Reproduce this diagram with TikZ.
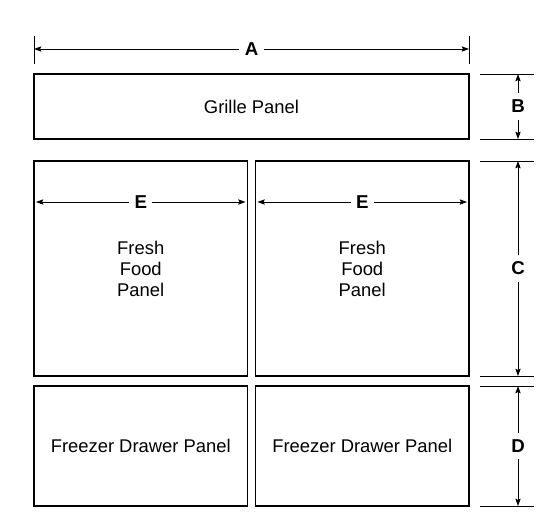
\documentclass[tikz,border=0pt]{standalone}
\usepackage{fontspec}
\setmainfont{Liberation Sans}
\usetikzlibrary{positioning, arrows.meta}

\begin{document}
\begin{tikzpicture}[x=0.75pt, y=-0.75pt, node distance=6pt,
  every node/.style={align=center, inner sep=0pt, outer sep=0pt},
  panel/.style={draw, line width=0.8pt, font=\fontsize{13.8}{15.75}\selectfont},
  extline/.style={line width=0.6pt},
  dimline/.style={{Stealth[length=5.5pt,width=4pt,inset=1pt]}-{Stealth[length=5.5pt,width=4pt,inset=1pt]}, line width=0.6pt},
  dimlabel/.style={fill=white, inner xsep=4pt, inner ysep=2pt, font=\fontsize{14}{15}\selectfont\bfseries}]
  \useasboundingbox (0,0) rectangle (553,515);

  % panels
  \node[panel, minimum width=326.25pt, minimum height=48.75pt] (grille) at (251.5,106.5) {Grille Panel};
  \node[panel, minimum width=160.125pt, minimum height=161.25pt, below right=16.5pt and 0pt of grille.south west] (freshL) {Fresh\\Food\\Panel};
  \node[panel, minimum width=160.125pt, minimum height=161.25pt, right=of freshL] (freshR) {Fresh\\Food\\Panel};
  \node[panel, minimum width=160.125pt, minimum height=90pt, below=7.5pt of freshL] (freezerL) {Freezer Drawer Panel};
  \node[panel, minimum width=160.125pt, minimum height=90pt, right=of freezerL] (freezerR) {Freezer Drawer Panel};

  % width A
  \draw[extline] ([yshift=7.5pt]grille.north west) -- ([yshift=28.5pt]grille.north west);
  \draw[extline] ([yshift=7.5pt]grille.north east) -- ([yshift=28.5pt]grille.north east);
  \coordinate (a1) at ([yshift=18.75pt]grille.north west);
  \coordinate (a2) at ([yshift=18.75pt]grille.north east);
  \draw[dimline] (a1) -- node[dimlabel] (lblA) {A} (a2);

  % widths E
  \coordinate (e1) at ([xshift=1.5pt, yshift=-30.75pt]freshL.north west);
  \coordinate (e2) at ([xshift=-1.5pt, yshift=-30.75pt]freshL.north east);
  \coordinate (e3) at ([xshift=1.5pt, yshift=-30.75pt]freshR.north west);
  \coordinate (e4) at ([xshift=-1.5pt, yshift=-30.75pt]freshR.north east);
  \draw[dimline] (e1) -- node[dimlabel] (lblE1) {E} (e2);
  \draw[dimline] (e3) -- node[dimlabel] (lblE2) {E} (e4);

  % heights B, C, D
  \foreach \p in {grille.north east, grille.south east, freshR.north east, freshR.south east, freezerR.north east, freezerR.south east}
    \draw[extline] ([xshift=8.25pt]\p) -- ([xshift=48.75pt]\p);
  \draw[dimline] ([xshift=36.75pt]grille.north east) -- node[dimlabel, inner xsep=1pt, inner ysep=5pt] (lblB) {B} ([xshift=36.75pt]grille.south east);
  \draw[dimline] ([xshift=36.75pt]freshR.north east) -- node[dimlabel, inner xsep=1pt, inner ysep=5pt] (lblC) {C} ([xshift=36.75pt]freshR.south east);
  \draw[dimline] ([xshift=36.75pt]freezerR.north east) -- node[dimlabel, inner xsep=1pt, inner ysep=5pt] (lblD) {D} ([xshift=36.75pt]freezerR.south east);
\end{tikzpicture}
\end{document}
